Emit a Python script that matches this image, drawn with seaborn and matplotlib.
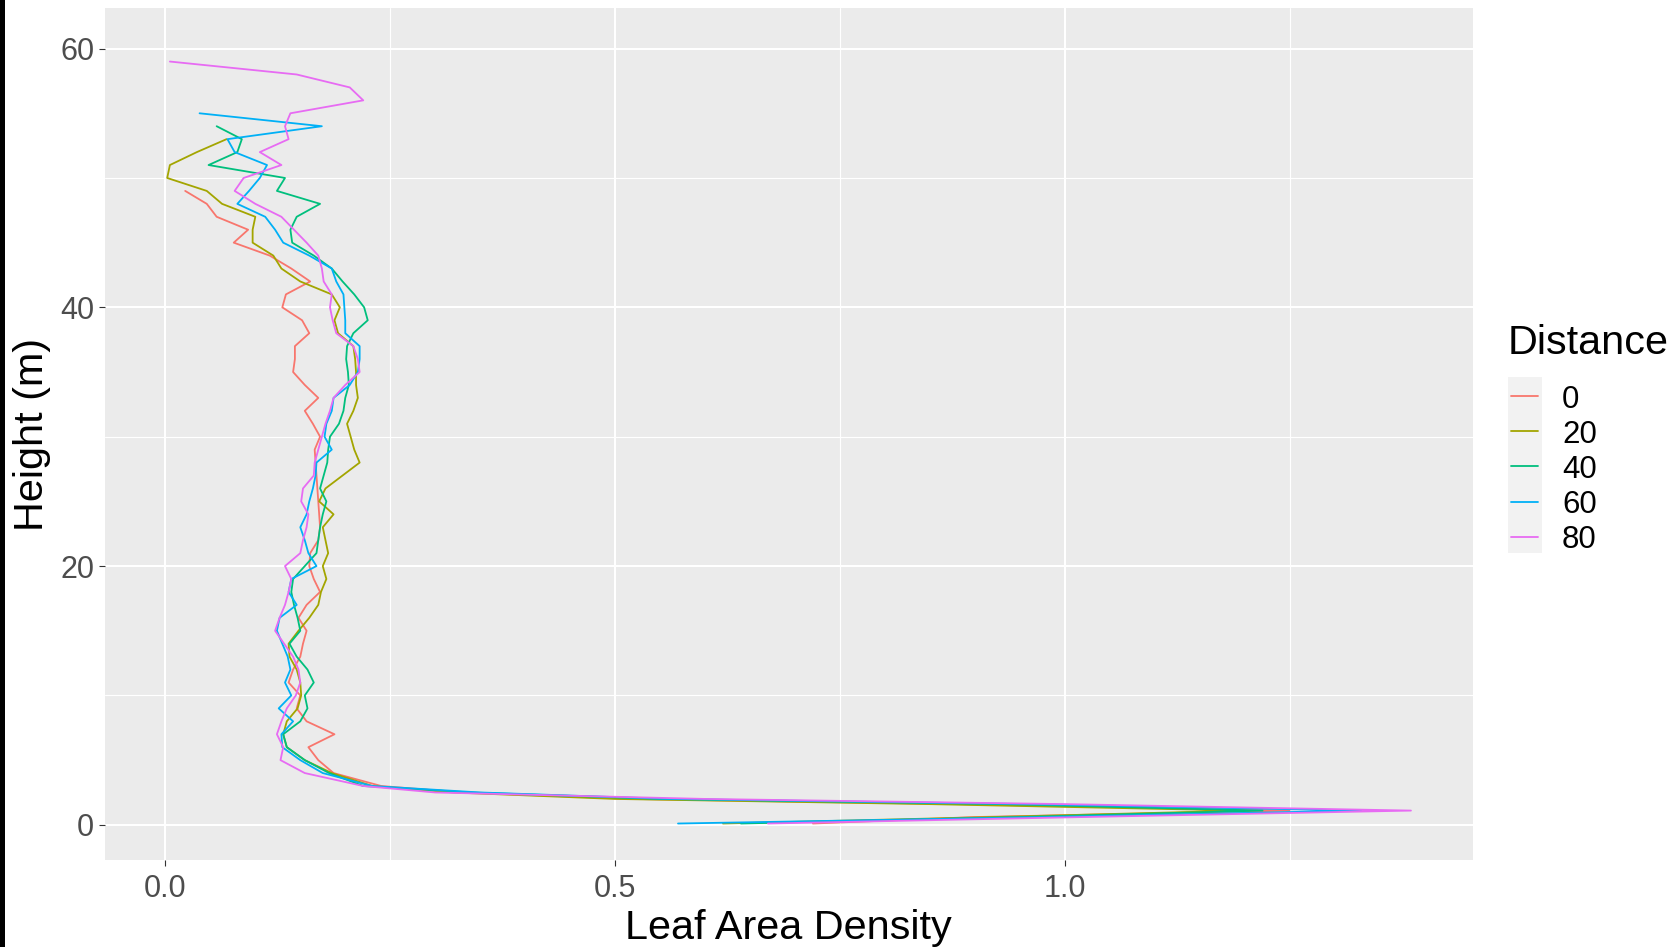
import pandas as pd
import matplotlib.pyplot as plt
import seaborn as sns
from matplotlib.lines import Line2D
from matplotlib.patches import Rectangle
from matplotlib.ticker import FixedLocator

# height of each sample (m), fine steps near the ground
heights = [0.1, 0.6, 1.1, 1.6, 2.0, 2.5, 3,
           4, 5, 6, 7, 8, 9, 10, 11, 12, 13,
           14, 15, 16, 17, 18, 19, 20, 21, 22, 23,
           24, 25, 26, 27, 28, 29, 30, 31, 32, 33,
           34, 35, 36, 37, 38, 39, 40, 41, 42, 43,
           44, 45, 46, 47, 48, 49, 50, 51, 52, 53,
           54, 55, 56, 57, 58, 59]

# leaf area density, bottom to top
lad_0 = [0.72, 0.90, 1.25, 0.88, 0.52, 0.33, 0.24,
         0.187, 0.170, 0.159, 0.188, 0.157, 0.146, 0.150, 0.137, 0.142, 0.150,
         0.153, 0.157, 0.148, 0.157, 0.172, 0.165, 0.160, 0.161, 0.170, 0.172,
         0.171, 0.170, 0.169, 0.168, 0.167, 0.166, 0.172, 0.164, 0.155, 0.170,
         0.155, 0.142, 0.144, 0.144, 0.160, 0.152, 0.130, 0.134, 0.161, 0.140,
         0.116, 0.076, 0.092, 0.057, 0.046, 0.022]
lad_20 = [0.62, 0.92, 1.20, 0.85, 0.50, 0.32, 0.23,
          0.185, 0.155, 0.135, 0.131, 0.135, 0.147, 0.151, 0.150, 0.146, 0.138,
          0.137, 0.148, 0.160, 0.170, 0.173, 0.179, 0.175, 0.181, 0.178, 0.175,
          0.187, 0.171, 0.178, 0.197, 0.216, 0.210, 0.206, 0.202, 0.209, 0.214,
          0.212, 0.212, 0.211, 0.209, 0.192, 0.188, 0.194, 0.185, 0.150, 0.129,
          0.120, 0.097, 0.097, 0.100, 0.063, 0.046, 0.002, 0.005, 0.035, 0.068]
lad_40 = [0.64, 0.95, 1.22, 0.93, 0.55, 0.34, 0.22,
          0.182, 0.155, 0.135, 0.131, 0.150, 0.158, 0.155, 0.165, 0.158, 0.146,
          0.138, 0.150, 0.147, 0.143, 0.140, 0.142, 0.155, 0.168, 0.170, 0.172,
          0.175, 0.179, 0.172, 0.176, 0.180, 0.181, 0.183, 0.193, 0.198, 0.200,
          0.204, 0.203, 0.201, 0.202, 0.209, 0.225, 0.221, 0.210, 0.197, 0.185,
          0.165, 0.141, 0.139, 0.146, 0.172, 0.124, 0.133, 0.048, 0.080, 0.085,
          0.057]
lad_60 = [0.57, 0.98, 1.33, 0.96, 0.56, 0.35, 0.23,
          0.175, 0.150, 0.130, 0.129, 0.142, 0.126, 0.140, 0.133, 0.139, 0.136,
          0.130, 0.124, 0.127, 0.146, 0.137, 0.140, 0.168, 0.159, 0.155, 0.150,
          0.157, 0.160, 0.164, 0.167, 0.168, 0.185, 0.177, 0.179, 0.185, 0.187,
          0.205, 0.214, 0.216, 0.216, 0.200, 0.200, 0.199, 0.198, 0.190, 0.185,
          0.160, 0.131, 0.122, 0.111, 0.080, 0.093, 0.105, 0.113, 0.077, 0.069,
          0.174, 0.038]
lad_80 = [0.67, 1.02, 1.385, 1.00, 0.60, 0.30, 0.22,
          0.155, 0.128, 0.131, 0.124, 0.129, 0.135, 0.145, 0.150, 0.148, 0.142,
          0.132, 0.122, 0.127, 0.133, 0.137, 0.140, 0.133, 0.150, 0.153, 0.157,
          0.159, 0.151, 0.153, 0.165, 0.166, 0.170, 0.174, 0.178, 0.183, 0.187,
          0.200, 0.216, 0.214, 0.209, 0.190, 0.186, 0.183, 0.185, 0.176, 0.174,
          0.170, 0.157, 0.143, 0.129, 0.100, 0.077, 0.087, 0.129, 0.105, 0.137,
          0.133, 0.139, 0.220, 0.205, 0.146, 0.005]

distances = [0, 20, 40, 60, 80]
colors = ['#F8766D', '#A3A500', '#00BF7D', '#00B0F6', '#E76BF3']

frames = []
for d, lad in zip(distances, [lad_0, lad_20, lad_40, lad_60, lad_80]):
    frames.append(pd.DataFrame({'Distance': d, 'Height': heights[:len(lad)], 'LAD': lad}))
df = pd.concat(frames, ignore_index=True)

sns.set_style('darkgrid', {'axes.facecolor': '#EBEBEB', 'grid.color': 'white'})
plt.rcParams['font.family'] = ['Liberation Sans', 'DejaVu Sans']

W, H = 1673, 947
fig = plt.figure(figsize=(W / 100, H / 100), dpi=100)
ax = fig.add_axes([104.6 / W, 1 - 860 / H, (1473 - 104.6) / W, 851.5 / H])

sns.lineplot(data=df, x='LAD', y='Height', hue='Distance',
             palette=dict(zip(distances, colors)), sort=False, estimator=None,
             legend=False, linewidth=1.3, ax=ax)

ax.set_xlim(-0.0676, 1.454)
ax.set_ylim(-2.72, 63.1)
ax.set_xticks([0, 0.5, 1.0])
ax.set_xticklabels(['0.0', '0.5', '1.0'])
ax.set_yticks([0, 20, 40, 60])
ax.xaxis.set_minor_locator(FixedLocator([0.25, 0.75, 1.25]))
ax.yaxis.set_minor_locator(FixedLocator([10, 30, 50]))
ax.grid(which='major', color='white', linewidth=1.5)
ax.grid(which='minor', color='white', linewidth=0.8)
ax.tick_params(which='major', bottom=True, left=True, length=4.4, width=0.8,
               color='#333333', pad=3, labelsize=22, labelcolor='#4D4D4D')
ax.tick_params(axis='x', which='major', pad=6)
ax.tick_params(which='minor', length=0)
for s in ax.spines.values():
    s.set_visible(False)

ax.set_xlabel('Leaf Area Density', fontsize=29.8, color='black')
ax.xaxis.label.set_va('baseline')
ax.xaxis.set_label_coords(0.5, (860 - 939) / 851.5)
ax.set_ylabel('Height (m)', fontsize=29.8, color='black')
ax.yaxis.label.set_va('center')
ax.yaxis.set_label_coords((32 - 104.6) / 1368.4, 0.5)

# legend drawn ggplot-style
fig.text(1508 / W, 1 - 354 / H, 'Distance', fontsize=29.8, ha='left', va='baseline', color='black')
fig.add_artist(Rectangle((1508 / W, 1 - 553 / H), 34 / W, 176.5 / H,
                         transform=fig.transFigure, color='#F2F2F2', lw=0))
for i, (d, c) in enumerate(zip(distances, colors)):
    yc = 1 - (396 + 35.2 * i) / H
    fig.add_artist(Line2D([1511 / W, 1538 / W], [yc, yc], color=c, lw=1.3,
                          transform=fig.transFigure))
    fig.text(1562 / W, yc, str(d), fontsize=22.5, ha='left', va='center_baseline', color='black')

fig.add_artist(Rectangle((0, 0), 5 / W, 1, transform=fig.transFigure, color='black', lw=0))

fig.savefig('out.png', dpi=100, facecolor='white')
